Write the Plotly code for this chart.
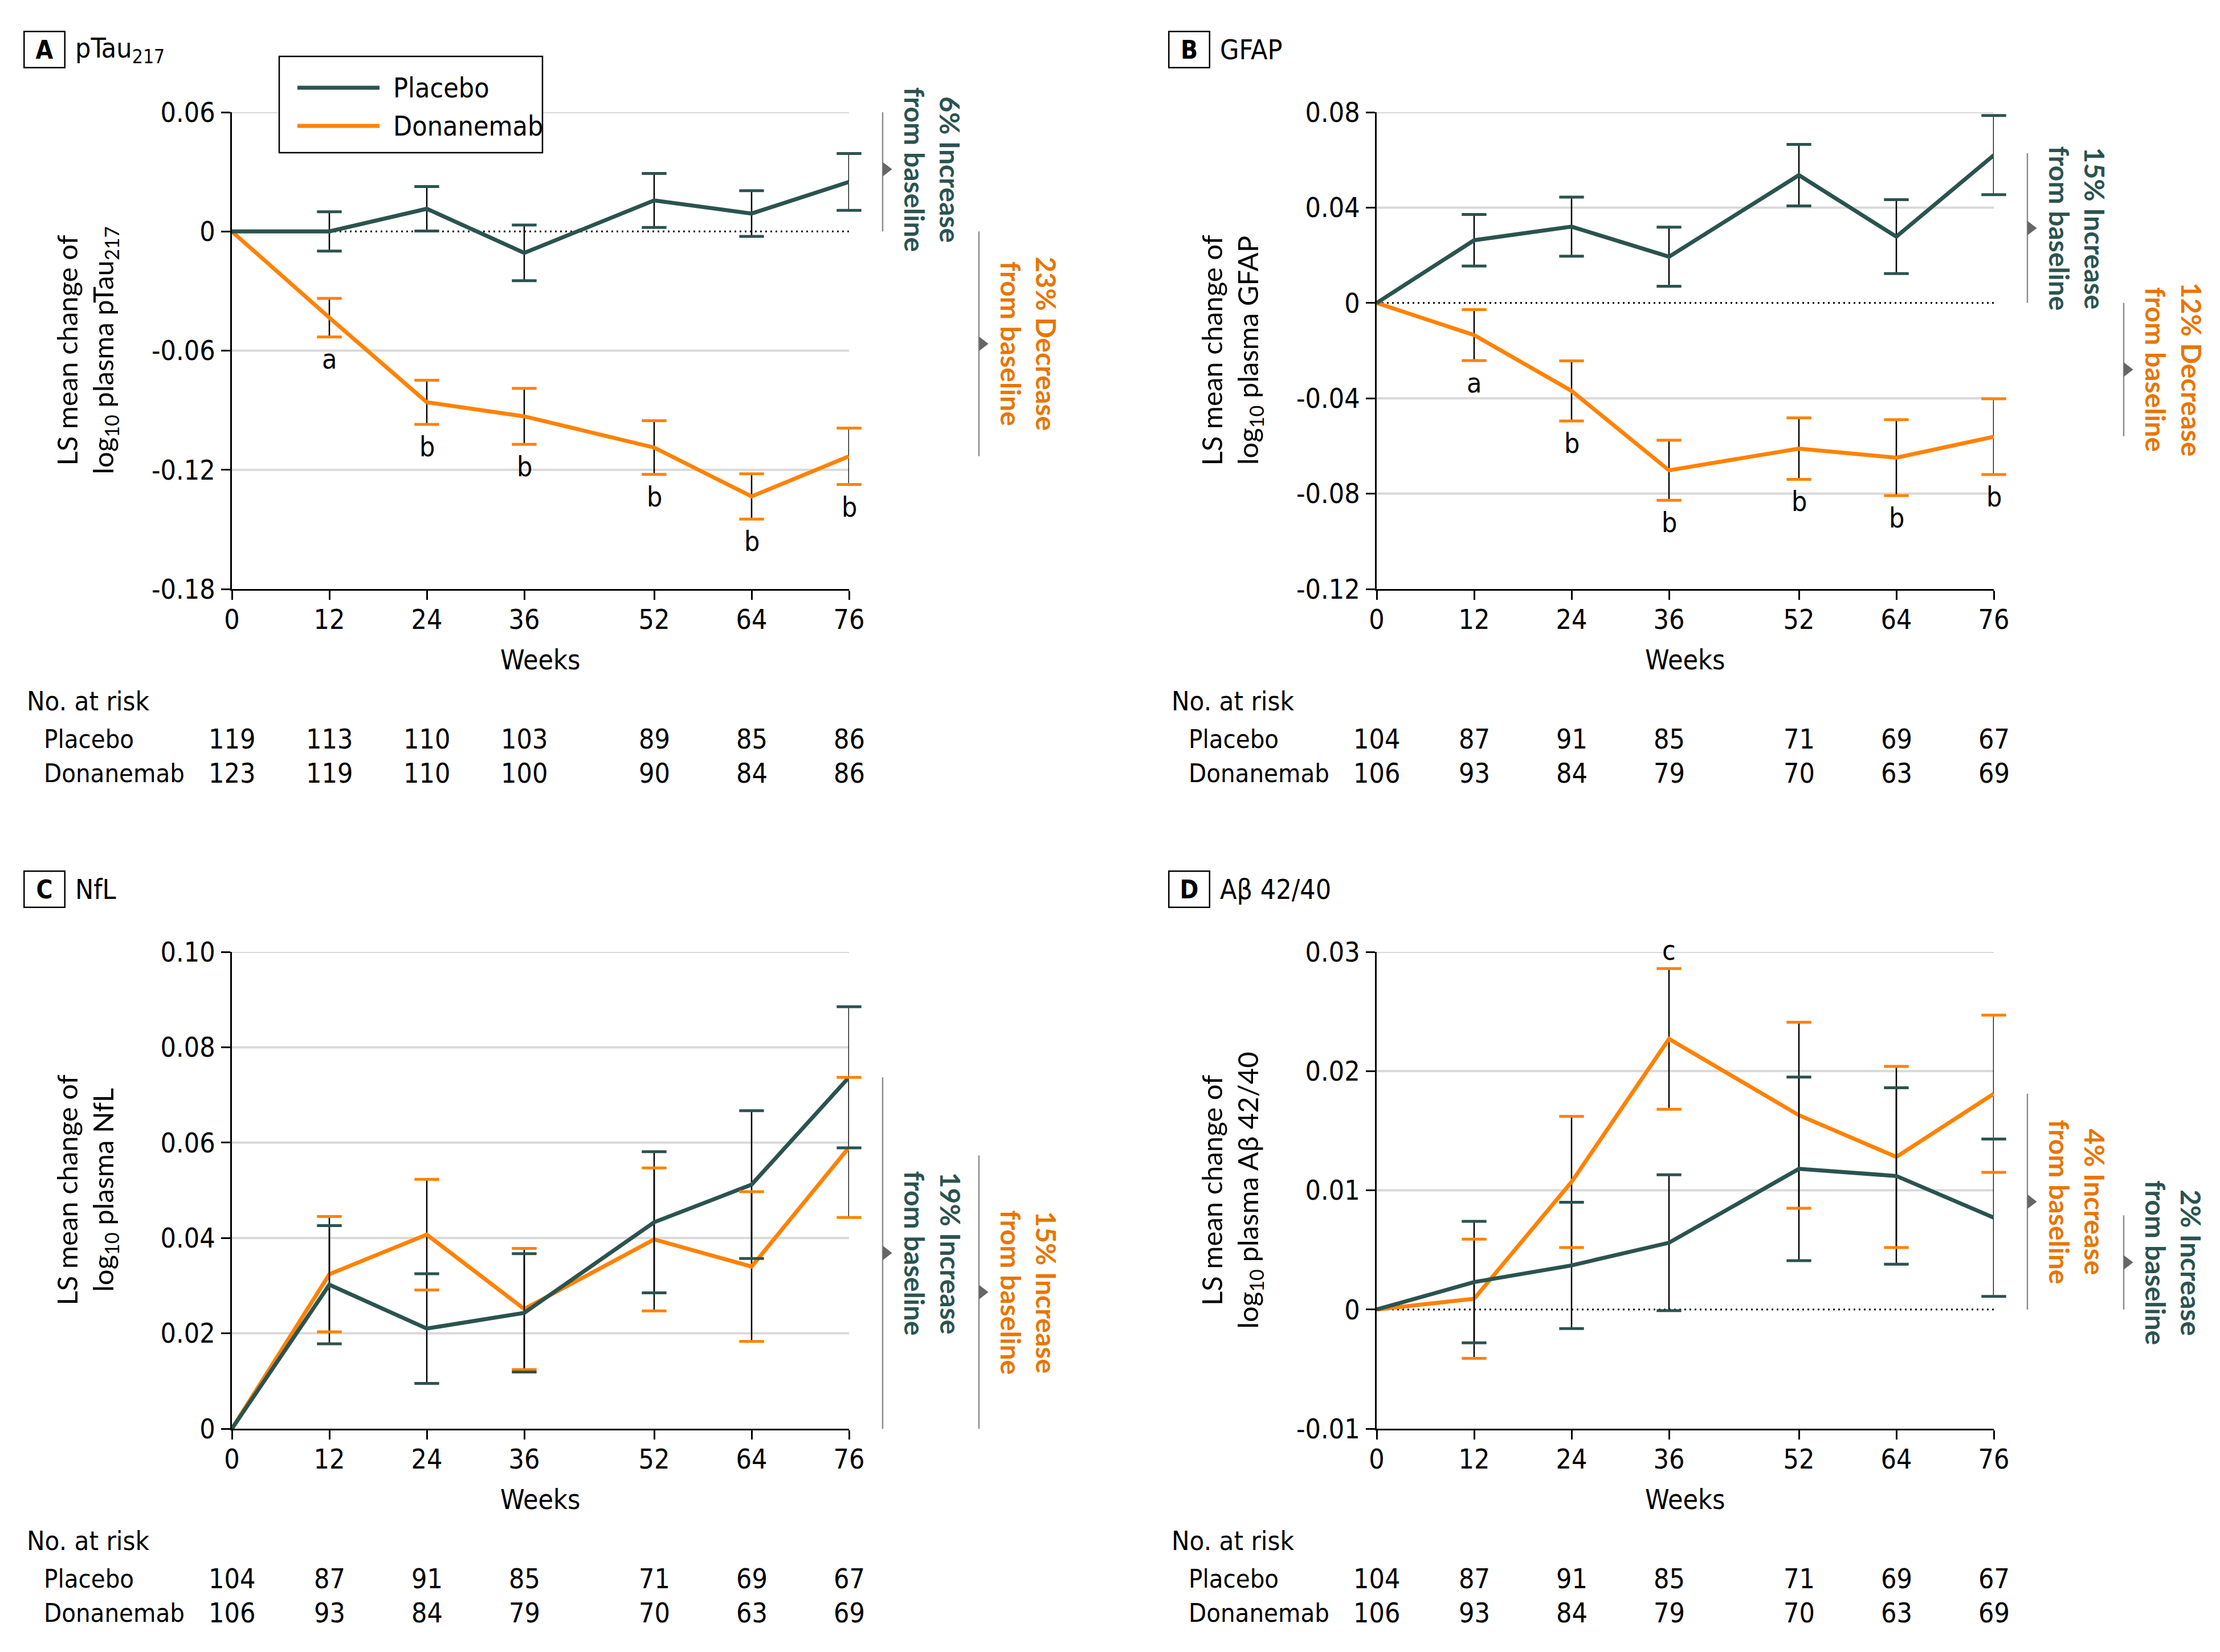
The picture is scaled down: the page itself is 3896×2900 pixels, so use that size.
import numpy as np
import plotly.graph_objects as go

W, H = 3896, 2900
PAGE_OFF = 8  # default page margin of the html body
COND = "DejaVu Sans Condensed, DejaVu Sans, sans-serif"
SANS = "Lato, DejaVu Sans, sans-serif"
PLACEBO_C = "#2b534f"
DONA_C = "#ff8200"
DONA_TXT = "#e87500"
GRID_C = "#d9d9d9"

# ---------------- data ----------------
weeks = [0, 12, 24, 36, 52, 64, 76]

# A: pTau217
A_placebo = [0, 0.0000, 0.0114, -0.0108, 0.0156, 0.0090, 0.0249]
A_placebo_err = [0, 0.0099, 0.0112, 0.0140, 0.0136, 0.0115, 0.0143]
A_dona = [0, -0.0434, -0.0860, -0.0931, -0.1088, -0.1334, -0.1132]
A_dona_err = [0, 0.0097, 0.0111, 0.0141, 0.0135, 0.0114, 0.0142]
A_letters = ["", "a", "b", "b", "b", "b", "b"]
A_risk_placebo = [119, 113, 110, 103, 89, 85, 86]
A_risk_dona = [123, 119, 110, 100, 90, 84, 86]
A_yticks = [0.06, 0, -0.06, -0.12, -0.18]
A_yticktext = ["0.06", "0", "-0.06", "-0.12", "-0.18"]

# B: GFAP
B_placebo = [0, 0.0263, 0.0320, 0.0194, 0.0536, 0.0278, 0.0620]
B_placebo_err = [0, 0.0108, 0.0124, 0.0124, 0.0129, 0.0155, 0.0166]
B_dona = [0, -0.0135, -0.0369, -0.0702, -0.0611, -0.0649, -0.0561]
B_dona_err = [0, 0.0107, 0.0126, 0.0126, 0.0129, 0.0159, 0.0159]
B_letters = ["", "a", "b", "b", "b", "b", "b"]
B_yticks = [0.08, 0.04, 0, -0.04, -0.08, -0.12]
B_yticktext = ["0.08", "0.04", "0", "-0.04", "-0.08", "-0.12"]

# C: NfL
C_placebo = [0, 0.0302, 0.0210, 0.0243, 0.0433, 0.0512, 0.0737]
C_placebo_err = [0, 0.0124, 0.0115, 0.0124, 0.0148, 0.0155, 0.0148]
C_dona = [0, 0.0324, 0.0407, 0.0251, 0.0397, 0.0340, 0.0590]
C_dona_err = [0, 0.0121, 0.0116, 0.0127, 0.0150, 0.0157, 0.0147]
C_yticks = [0.10, 0.08, 0.06, 0.04, 0.02, 0]
C_yticktext = ["0.10", "0.08", "0.06", "0.04", "0.02", "0"]

# D: Abeta 42/40
D_placebo = [0, 0.0023, 0.0037, 0.0056, 0.0118, 0.0112, 0.0077]
D_placebo_err = [0, 0.0051, 0.0053, 0.0057, 0.0077, 0.0074, 0.0066]
D_dona = [0, 0.0009, 0.0107, 0.0227, 0.0163, 0.0128, 0.0181]
D_dona_err = [0, 0.0050, 0.0055, 0.0059, 0.0078, 0.0076, 0.0066]
D_letters = ["", "", "", "c", "", "", ""]
D_yticks = [0.03, 0.02, 0.01, 0, -0.01]
D_yticktext = ["0.03", "0.02", "0.01", "0", "-0.01"]

# No. at risk for B, C, D
BCD_risk_placebo = [104, 87, 91, 85, 71, 69, 67]
BCD_risk_dona = [106, 93, 84, 79, 70, 63, 69]

# change-from-baseline brackets: (end value, label line 1, series)
A_brackets = [(0.0626, "6% Increase", "placebo"), (-0.1131, "23% Decrease", "dona")]
B_brackets = [(0.0628, "15% Increase", "placebo"), (-0.0559, "12% Decrease", "dona")]
C_brackets = [(0.0737, "19% Increase", "placebo"), (0.0573, "15% Increase", "dona")]
D_brackets = [(0.0181, "4% Increase", "dona"), (0.0079, "2% Increase", "placebo")]

panels = [
    dict(letter="A", title="pTau<sub>217</sub>",
         ytitle="LS mean change of<br>log<sub>10</sub> plasma pTau<sub>217</sub>",
         yrange=[-0.18, 0.06], yticks=A_yticks, yticktext=A_yticktext,
         grid=[0.06, -0.06, -0.12], dotted=True,
         placebo=A_placebo, placebo_err=A_placebo_err, dona=A_dona, dona_err=A_dona_err,
         letters=A_letters, letter_side="below",
         risk_p=A_risk_placebo, risk_d=A_risk_dona, brackets=A_brackets,
         geom=(407, 1490, 197, 1034)),
    dict(letter="B", title="GFAP",
         ytitle="LS mean change of<br>log<sub>10</sub> plasma GFAP",
         yrange=[-0.12, 0.08], yticks=B_yticks, yticktext=B_yticktext,
         grid=[0.08, 0.04, -0.04, -0.08], dotted=True,
         placebo=B_placebo, placebo_err=B_placebo_err, dona=B_dona, dona_err=B_dona_err,
         letters=B_letters, letter_side="below",
         risk_p=BCD_risk_placebo, risk_d=BCD_risk_dona, brackets=B_brackets,
         geom=(2416, 3499, 197, 1034)),
    dict(letter="C", title="NfL",
         ytitle="LS mean change of<br>log<sub>10</sub> plasma NfL",
         yrange=[0, 0.10], yticks=C_yticks, yticktext=C_yticktext,
         grid=[0.10, 0.08, 0.06, 0.04, 0.02], dotted=False,
         placebo=C_placebo, placebo_err=C_placebo_err, dona=C_dona, dona_err=C_dona_err,
         letters=None, letter_side="below",
         risk_p=BCD_risk_placebo, risk_d=BCD_risk_dona, brackets=C_brackets,
         geom=(407, 1490, 1671, 2508)),
    dict(letter="D", title="Aβ 42/40",
         ytitle="LS mean change of<br>log<sub>10</sub> plasma Aβ 42/40",
         yrange=[-0.01, 0.03], yticks=D_yticks, yticktext=D_yticktext,
         grid=[0.03, 0.02, 0.01], dotted=True,
         placebo=D_placebo, placebo_err=D_placebo_err, dona=D_dona, dona_err=D_dona_err,
         letters=D_letters, letter_side="above",
         risk_p=BCD_risk_placebo, risk_d=BCD_risk_dona, brackets=D_brackets,
         geom=(2416, 3499, 1671, 2508)),
]

fig = go.Figure()
layout = dict(width=W, height=H, autosize=False, template="none",
              margin=dict(l=0, r=0, t=0, b=0, pad=0, autoexpand=False),
              paper_bgcolor="white", plot_bgcolor="white",
              showlegend=False, font=dict(family=COND, color="black"))
annotations = []
shapes = []


def py(p):
    return 1 - (p - PAGE_OFF) / H


def pxx(p):
    return (p - PAGE_OFF) / W


BR_W = 390
for i, P in enumerate(panels, start=1):
    s = "" if i == 1 else str(i)
    xa, ya = "x" + s, "y" + s
    bx = "x" + str(i + 4)
    l, r, t, b = P["geom"]
    layout["xaxis" + s] = dict(
        domain=[pxx(l), pxx(r)], range=[0, 76], anchor=ya, automargin=False,
        tickmode="array", tickvals=weeks, ticktext=[str(w) for w in weeks],
        ticks="outside", ticklen=16, tickwidth=2.5, tickcolor="black",
        showline=True, linecolor="black", linewidth=2.5,
        showgrid=False, zeroline=False, ticklabelstandoff=-6,
        tickfont=dict(family=COND, size=48, color="black"))
    layout["yaxis" + s] = dict(
        domain=[py(b), py(t)], range=P["yrange"], anchor=xa, automargin=False,
        tickmode="array", tickvals=P["yticks"], ticktext=P["yticktext"],
        ticks="outside", ticklen=16, tickwidth=2.5, tickcolor="black",
        showline=True, linecolor="black", linewidth=2.5,
        showgrid=False, zeroline=False, ticklabelstandoff=1,
        tickfont=dict(family=COND, size=48, color="black"))
    layout["xaxis" + str(i + 4)] = dict(
        domain=[pxx(r), pxx(r + BR_W)], range=[0, BR_W], anchor=ya,
        visible=False, showgrid=False, zeroline=False, automargin=False)

    # gridlines and dotted baseline
    for g in P["grid"]:
        shapes.append(dict(type="line", xref=xa, yref=ya, x0=0, x1=76, y0=g, y1=g,
                           line=dict(color=GRID_C, width=4), layer="between"))
    if P["dotted"]:
        shapes.append(dict(type="line", xref=xa, yref=ya, x0=0, x1=76, y0=0, y1=0,
                           line=dict(color="black", width=3, dash="3px,6px"), layer="between"))

    series = [("Donanemab", P["dona"], P["dona_err"], DONA_C),
              ("Placebo", P["placebo"], P["placebo_err"], PLACEBO_C)]
    for name, vals, errs, col in series:
        fig.add_trace(go.Scatter(
            x=weeks, y=vals, mode="lines", name=name,
            line=dict(color=col, width=7),
            error_y=dict(type="data", array=errs, color="black", thickness=2.5, width=0),
            xaxis=xa, yaxis=ya, showlegend=False, hoverinfo="skip"))
    for name, vals, errs, col in series:
        v = np.array(vals)
        e = np.array(errs)
        wk = np.array(weeks)
        m = e > 0
        fig.add_trace(go.Scatter(
            x=np.concatenate([wk[m], wk[m]]), y=np.concatenate([v[m] + e[m], v[m] - e[m]]),
            mode="markers", name=name + " CI",
            marker=dict(symbol="line-ew", size=31, color=col, line=dict(color=col, width=5)),
            cliponaxis=False, xaxis=xa, yaxis=ya, showlegend=False, hoverinfo="skip"))

    # significance letters
    if P["letters"]:
        v = np.array(P["dona"])
        e = np.array(P["dona_err"])
        for j, let in enumerate(P["letters"]):
            if not let:
                continue
            if P["letter_side"] == "below":
                yv, shift = v[j] - e[j], -39
            else:
                yv, shift = v[j] + e[j], 32
            annotations.append(dict(x=weeks[j], y=yv, xref=xa, yref=ya, text=let,
                                    showarrow=False, yshift=shift, xanchor="center",
                                    yanchor="middle", font=dict(family=COND, size=48, color="black")))

    # brackets
    for k, (endv, lab, ser) in enumerate(P["brackets"]):
        off = 59 if k == 0 else 228
        tcol = PLACEBO_C if ser == "placebo" else DONA_TXT
        fig.add_trace(go.Scatter(x=[off, off], y=[0, endv], mode="lines",
                                 line=dict(color="#8c8c8c", width=2.5),
                                 xaxis=bx, yaxis=ya, showlegend=False, hoverinfo="skip"))
        fig.add_trace(go.Scatter(x=[off + 5.6], y=[endv / 2], mode="markers",
                                 marker=dict(symbol="triangle-right", size=22, color="#666666"),
                                 cliponaxis=False, xaxis=bx, yaxis=ya, showlegend=False,
                                 hoverinfo="skip"))
        annotations.append(dict(x=off + 88, y=endv / 2, xref=bx, yref=ya,
                                text="<b>" + lab + "<br>from baseline</b>", textangle=90,
                                showarrow=False, xanchor="center", yanchor="middle",
                                font=dict(family=SANS, size=48, color=tcol)))

    # panel label & title
    dx = l - 407
    ty = t - 110
    annotations.append(dict(x=pxx(78 + dx), y=py(ty), xref="paper", yref="paper",
                            text="<b>" + P["letter"] + "</b>", showarrow=False,
                            xanchor="center", yanchor="middle", width=69, height=61,
                            borderpad=0, borderwidth=2.5, bordercolor="black", bgcolor="white",
                            font=dict(family=COND, size=44, color="black")))
    annotations.append(dict(x=pxx(130 + dx), y=py(ty), xref="paper", yref="paper",
                            text=P["title"], showarrow=False, xanchor="left", yanchor="middle",
                            font=dict(family=COND, size=48, color="black")))

    # y title
    annotations.append(dict(x=pxx(l - 255), y=py((t + b) / 2), xref="paper", yref="paper",
                            text=P["ytitle"], textangle=-90, showarrow=False,
                            xanchor="center", yanchor="middle",
                            font=dict(family=SANS, size=49, color="black")))
    # x title
    annotations.append(dict(x=0.5, y=py(b + 124), xref=xa + " domain", yref="paper",
                            text="Weeks", showarrow=False, xanchor="center", yanchor="middle",
                            font=dict(family=COND, size=48, color="black")))

    # No. at risk table
    annotations.append(dict(x=pxx(45 + dx), y=py(b + 196), xref="paper", yref="paper",
                            text="No. at risk", showarrow=False, xanchor="left", yanchor="middle",
                            font=dict(family=COND, size=47, color="black")))
    for rowname, vals, yy in [("Placebo", P["risk_p"], b + 263), ("Donanemab", P["risk_d"], b + 323)]:
        annotations.append(dict(x=pxx(75 + dx), y=py(yy), xref="paper", yref="paper",
                                text=rowname, showarrow=False, xanchor="left", yanchor="middle",
                                font=dict(family=COND, size=45, color="black")))
        for w, n in zip(weeks, vals):
            annotations.append(dict(x=w, y=py(yy), xref=xa, yref="paper", text=str(n),
                                    showarrow=False, xanchor="center", yanchor="middle",
                                    font=dict(family=COND, size=48, color="black")))

# legend (panel A)
shapes.append(dict(type="rect", xref="paper", yref="paper", x0=pxx(490), x1=pxx(952),
                   y0=py(268), y1=py(99), line=dict(color="black", width=2.5),
                   fillcolor="white", layer="above"))
for yy, col, name in [(154, PLACEBO_C, "Placebo"), (221, DONA_C, "Donanemab")]:
    shapes.append(dict(type="line", xref="paper", yref="paper", x0=pxx(522), x1=pxx(666),
                       y0=py(yy), y1=py(yy), line=dict(color=col, width=7), layer="above"))
    annotations.append(dict(x=pxx(688), y=py(yy), xref="paper", yref="paper", text=name,
                            showarrow=False, xanchor="left", yanchor="middle",
                            font=dict(family=COND, size=48, color="black")))

layout["annotations"] = annotations
layout["shapes"] = shapes
fig.update_layout(**layout)
fig.write_html("out.html")
